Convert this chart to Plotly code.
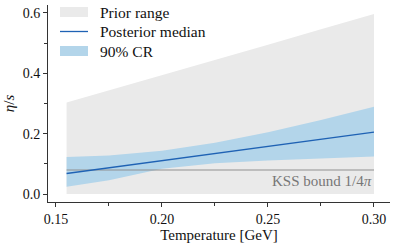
import plotly.graph_objects as go

# Data
temperature = [0.155, 0.175, 0.200, 0.225, 0.250, 0.275, 0.300]
prior_upper = [0.303, 0.343, 0.393, 0.444, 0.495, 0.546, 0.597]
prior_lower = [0.0, 0.0, 0.0, 0.0, 0.0, 0.0, 0.0]
median = [0.068, 0.087, 0.111, 0.134, 0.158, 0.181, 0.205]
cr_upper = [0.123, 0.128, 0.143, 0.170, 0.205, 0.245, 0.289]
cr_lower = [0.024, 0.046, 0.084, 0.102, 0.111, 0.117, 0.124]
kss_value = 0.0796
legend_labels = ["Prior range", "Posterior median", "90% CR"]

font_family = "Liberation Serif, DejaVu Serif, serif"
gray_fill = "#eaeaea"
blue_fill = "#b3d5ea"
median_color = "#1f62b4"
kss_color = "#8f8f8f"

fig = go.Figure()

# Prior range
fig.add_trace(go.Scatter(x=temperature, y=prior_lower, mode="lines",
                         line=dict(width=0), showlegend=False, hoverinfo="skip"))
fig.add_trace(go.Scatter(x=temperature, y=prior_upper, mode="lines", fill="tonexty",
                         fillcolor=gray_fill, line=dict(width=0),
                         name=legend_labels[0]))
# 90% CR
fig.add_trace(go.Scatter(x=temperature, y=cr_lower, mode="lines",
                         line=dict(width=0), showlegend=False, hoverinfo="skip"))
fig.add_trace(go.Scatter(x=temperature, y=cr_upper, mode="lines", fill="tonexty",
                         fillcolor=blue_fill, line=dict(width=0),
                         name=legend_labels[2]))
# KSS bound
fig.add_trace(go.Scatter(x=[temperature[0], temperature[-1]], y=[kss_value, kss_value],
                         mode="lines", line=dict(color=kss_color, width=1.2),
                         name="KSS bound"))
# Posterior median
fig.add_trace(go.Scatter(x=temperature, y=median, mode="lines",
                         line=dict(color=median_color, width=1.3),
                         name=legend_labels[1]))

fig.add_annotation(x=temperature[-1], y=kss_value, xref="x", yref="y",
                   text="KSS bound 1/4<i>π</i>", showarrow=False,
                   xanchor="right", yanchor="top", yshift=-1, xshift=0,
                   font=dict(family=font_family, size=15, color="#777777"))

# Legend drawn in paper coordinates (layout decoration)
plot_w, plot_h = 342.0, 197.0
def px(xp):
    return (xp - 48) / plot_w
def py(yp):
    return (202 - yp) / plot_h

legend_rows = [12, 31.5, 51]
fig.add_shape(type="rect", xref="paper", yref="paper",
              x0=px(60), x1=px(88), y0=py(legend_rows[0] + 5), y1=py(legend_rows[0] - 5),
              fillcolor=gray_fill, line=dict(width=0))
fig.add_shape(type="line", xref="paper", yref="paper",
              x0=px(60), x1=px(88), y0=py(legend_rows[1]), y1=py(legend_rows[1]),
              line=dict(color=median_color, width=1.3))
fig.add_shape(type="rect", xref="paper", yref="paper",
              x0=px(60), x1=px(88), y0=py(legend_rows[2] + 5), y1=py(legend_rows[2] - 5),
              fillcolor=blue_fill, line=dict(width=0))
for label, row in zip(legend_labels, legend_rows):
    fig.add_annotation(x=px(98), y=py(row), xref="paper", yref="paper",
                       text=label, showarrow=False, xanchor="left", yanchor="middle",
                       font=dict(family=font_family, size=15.5, color="#111111"))

axis_common = dict(showline=True, linecolor="#333333", linewidth=1,
                   ticks="outside", ticklen=4, tickwidth=1, tickcolor="#333333",
                   showgrid=False, zeroline=False, mirror=False,
                   tickfont=dict(family=font_family, size=14, color="#111111"))

fig.update_xaxes(range=[0.14623, 0.30755], tickvals=[0.15, 0.20, 0.25, 0.30],
                 ticktext=["0.15", "0.20", "0.25", "0.30"],
                 minor=dict(tickvals=[0.175, 0.225, 0.275], ticklen=3, ticks="outside",
                            tickcolor="#333333"),
                 title=dict(text="Temperature [GeV]", standoff=3,
                            font=dict(family=font_family, size=15, color="#111111")),
                 **axis_common)
fig.update_yaxes(range=[-0.0265, 0.6265], tickvals=[0.0, 0.2, 0.4, 0.6],
                 ticktext=["0.0", "0.2", "0.4", "0.6"],
                 minor=dict(tickvals=[0.1, 0.3, 0.5], ticklen=3, ticks="outside",
                            tickcolor="#333333"),
                 title=dict(text="<i>η</i>/<i>s</i>", standoff=4,
                            font=dict(family=font_family, size=15, color="#111111")),
                 **axis_common)

fig.update_layout(
    width=395, height=244,
    margin=dict(l=48, r=5, t=5, b=42, autoexpand=False),
    plot_bgcolor="white", paper_bgcolor="white",
    font=dict(family=font_family, size=14, color="#111111"),
    showlegend=False,
)

fig.write_html("out.html", config={"displayModeBar": False},
               post_script="document.body.style.margin='0';document.body.style.overflow='hidden';")
